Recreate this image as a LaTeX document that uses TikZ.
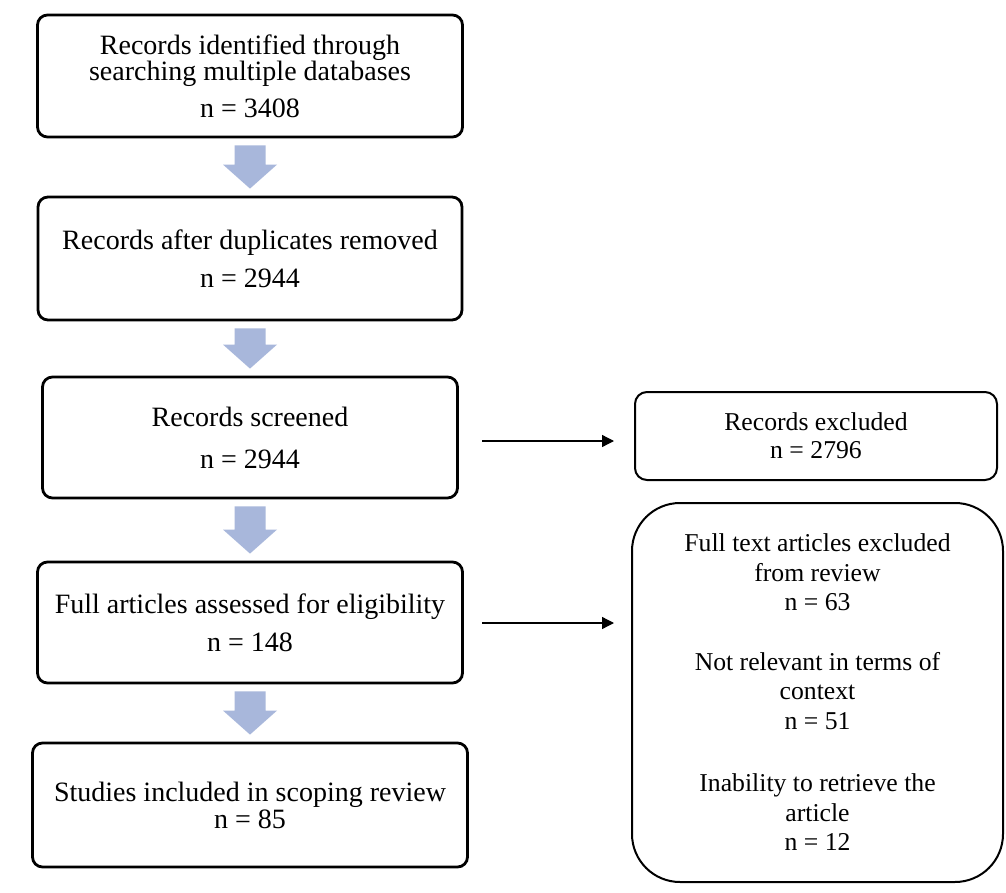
\documentclass[tikz,border=0pt]{standalone}
\usepackage{fontspec}
\setmainfont{Liberation Serif}
\usetikzlibrary{arrows.meta,calc}

\definecolor{arrowblue}{RGB}{168,183,219}

% wide light-blue arrow between two stacked boxes
\newcommand{\flowarrow}[2]{%
  \path (#1.south) ++(0,7) coordinate (#1-t)
        (#2.north) ++(0,-7) coordinate (#2-h);
  \fill[arrowblue] ($(#1-t)+(-15.5,0)$) -- ($(#1-t)+(15.5,0)$)
    -- ($(#2-h)+(15.5,-24)$) -- ($(#2-h)+(27,-24)$) -- (#2-h)
    -- ($(#2-h)+(-27,-24)$) -- ($(#2-h)+(-15.5,-24)$) -- cycle;}

\begin{document}
\begin{tikzpicture}[x=1pt, y=-1pt,
    mainbox/.style={draw, rectangle, rounded corners=10pt, line width=2.8pt, align=center,
      inner sep=0pt, font={\fontsize{28}{28}\selectfont\lineskiplimit=-100pt}},
    sidebox/.style={draw, rectangle, line width=2pt, align=center,
      inner sep=0pt, font={\fontsize{25.7}{28}\selectfont\lineskiplimit=-100pt}},
    thinarrow/.style={-{Triangle[length=12pt,width=12pt]}, line width=1.3pt}]
  \fill[white] (0,0) rectangle (1006,893);
  \useasboundingbox (0,0) rectangle (1006,893);

  \node[mainbox, minimum width=425pt, minimum height=122pt] (found) at (250,76)
    {Records identified through\\[-2pt]searching multiple databases\\[9pt]n = 3408};
  \node[mainbox, minimum width=424pt, minimum height=123pt] (dedup) at (250,258.5)
    {Records after duplicates removed\\[10pt]n = 2944};
  \node[mainbox, minimum width=415pt, minimum height=121pt] (screen) at (250,437.5)
    {Records screened\\[14pt]n = 2944};
  \node[mainbox, minimum width=425pt, minimum height=121pt] (assess) at (250,622.5)
    {Full articles assessed for eligibility\\[10pt]n = 148};
  \node[mainbox, minimum width=435pt, minimum height=124pt] (incl) at (250,805)
    {Studies included in scoping review\\[-1pt]n = 85};

  \node[sidebox, rounded corners=12pt, minimum width=362pt, minimum height=88pt] (excl) at (816,436)
    {Records excluded\\n = 2796};
  \node[sidebox, rounded corners=48pt, minimum width=371pt, minimum height=379pt,
        font={\fontsize{25.7}{29.5}\selectfont\lineskiplimit=-100pt}] (fulltext) at (817.5,692.5)
    {Full text articles excluded\\from review\\n = 63\\[30pt]
     Not relevant in terms of\\context\\n = 51\\[33pt]
     Inability to retrieve the\\article\\n = 12};

  \flowarrow{found}{dedup}
  \flowarrow{dedup}{screen}
  \flowarrow{screen}{assess}
  \flowarrow{assess}{incl}

  \coordinate (p1) at (482,441);
  \draw[thinarrow, shorten >=20pt] (p1) -- (p1 -| excl.west);
  \coordinate (p2) at (482,623);
  \draw[thinarrow, shorten >=17pt] (p2) -- (p2 -| fulltext.west);
\end{tikzpicture}
\end{document}
